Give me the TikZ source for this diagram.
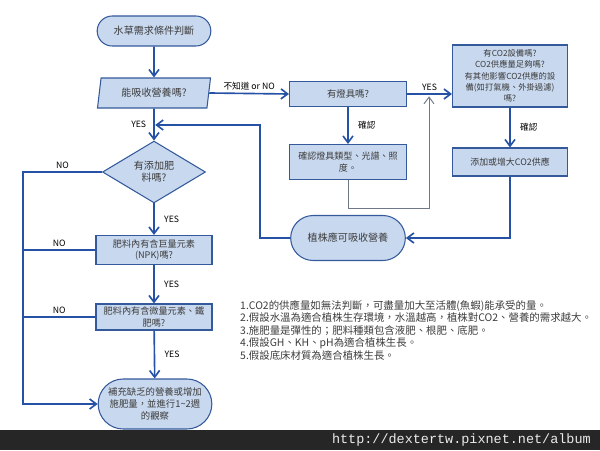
\documentclass[tikz,border=0pt]{standalone}
\usepackage{fontspec}
\setmainfont{Noto Sans CJK TC}
\setmonofont{Liberation Mono}
\usetikzlibrary{shapes.geometric, shapes.misc, arrows.meta, positioning}

\definecolor{boxfill}{RGB}{200,216,238}
\definecolor{boxline}{RGB}{52,90,155}
\definecolor{flowblue}{RGB}{38,82,165}
\definecolor{loopgray}{RGB}{110,120,135}
\definecolor{txtgray}{RGB}{60,60,60}
\definecolor{bargray}{RGB}{38,38,38}

\tikzset{
  base/.style={draw=boxline, fill=boxfill, line width=0.9pt, text=txtgray,
    font=\fontsize{8.6}{10.5}\selectfont, align=center, inner sep=1pt},
  process/.style={base, rectangle, minimum width=3.48cm},
  terminal/.style={base, rounded rectangle, minimum width=3.48cm},
  decision/.style={base, diamond, minimum width=3.09cm, minimum height=1.74cm, inner sep=0pt},
  inputbox/.style={base, trapezium, trapezium left angle=73, trapezium right angle=107,
    trapezium stretches body, minimum width=3.39cm, minimum height=0.9cm},
  flow/.style={draw=flowblue, line width=1.4pt, -{Straight Barb[length=2mm,width=3mm]}},
  flowline/.style={draw=flowblue, line width=1.4pt},
  loopflow/.style={draw=loopgray, line width=0.8pt, -{Straight Barb[length=2mm,width=3mm]}},
  lbl/.style={font=\fontsize{7.4}{9}\selectfont, text=black, inner sep=2pt},
  notes/.style={font=\fontsize{8.9}{10.7}\selectfont, align=left, text=txtgray, inner sep=0pt},
}

\begin{document}
\begin{tikzpicture}[x=0.03cm, y=-0.03cm]
	\useasboundingbox (0,0) rectangle (600,450);

	% left column
	\node [terminal, minimum height=0.9cm] (start) at (154,31) {水草需求條件判斷};
	\node [inputbox] (absorb) at (154,93) {能吸收營養嗎?};
	\node [decision] (fert) at (154,172) {有添加肥\\料嗎?};
	\node [process, minimum height=0.87cm, font=\fontsize{7.8}{10}\selectfont] (npk) at (154,250) {肥料內有含巨量元素\\(NPK)嗎?};
	\node [process, minimum height=0.78cm, font=\fontsize{7.8}{10}\selectfont] (micro) at (154,317) {肥料內有含微量元素、鐵\\肥嗎?};
	\node [terminal, minimum height=1.5cm, font=\fontsize{8}{10.5}\selectfont] (done) at (155,404) {補充缺乏的營養或增加\\施肥量，並進行1\textasciitilde2週\\的觀察};

	% middle and right column
	\node [process, minimum width=3.51cm, minimum height=0.75cm, font=\fontsize{8}{10}\selectfont] (lamp) at (348,94) {有燈具嗎?};
	\node [process, minimum width=3.51cm, minimum height=1.05cm, font=\fontsize{7.7}{10}\selectfont] (lampchk) at (348,162) {確認燈具類型、光譜、照\\度。};
	\node [terminal, minimum width=3.51cm, minimum height=1.35cm] (plant) at (348,238) {植株應可吸收營養};
	\node [process, minimum width=3.45cm, minimum height=1.86cm, font=\fontsize{7.1}{9.6}\selectfont] (co2) at (510,76) {有CO2設備嗎?\\CO2供應量足夠嗎?\\有其他影響CO2供應的設\\備(如打氣機、外掛過濾)\\嗎?};
	\node [process, minimum width=3.45cm, minimum height=0.84cm, font=\fontsize{7.6}{10}\selectfont] (co2add) at (510,162) {添加或增大CO2供應};

	\coordinate (nobus) at (23,172);
	\coordinate (back) at (260,125);
	\coordinate (lampturn) at (429,208);

	% connectors
	\draw [flow] (start) -- (absorb);
	\draw [flow] (absorb.east) -- node [lbl, above] (lunk) {不知道 or NO} (lamp.west);
	\draw [flow] (lamp.east) -- node [lbl, above] (lyes1) {YES} (lamp.east -| co2.west);
	\draw [flow] (lamp) -- node [lbl, right=6pt] (lchk1) {確認} (lampchk);
	\draw [loopflow] (lampchk.south) |- (lampturn) -- ([yshift=-2pt]lampturn |- lamp.east);
	\draw [flow] (co2) -- node [lbl, right=6pt] (lchk2) {確認} (co2add);
	\draw [flow] (co2add.south) |- (plant.east);
	\draw [flow] (plant.west) -| (back) -- ([xshift=1pt]back -| absorb.south);

	\draw [flow] (absorb.south) -- node [lbl, left=4pt] (lyes2) {YES} (fert.north);
	\draw [flow] (fert) -- node [lbl, right=6pt] (lyes3) {YES} (npk);
	\draw [flow] (npk) -- node [lbl, right=6pt] (lyes4) {YES} (micro);
	\draw [flow] (micro) -- node [lbl, right=6pt] (lyes5) {YES} (done);

	\draw [flow] (fert.west) -- node [lbl, above] (lno1) {NO} (nobus) |- (done.west);
	\draw [flowline] (npk.west) -- node [lbl, above] (lno2) {NO} (npk.west -| nobus);
	\draw [flowline] (micro.west) -- node [lbl, above] (lno3) {NO} (micro.west -| nobus);

	% notes
	\node [notes, anchor=north west] (remarks) at (240,300) {1.CO2的供應量如無法判斷，可盡量加大至活體(魚蝦)能承受的量。\\
		2.假設水溫為適合植株生存環境，水溫越高，植株對CO2、營養的需求越大。\\
		3.施肥量是彈性的；肥料種類包含液肥、根肥、底肥。\\
		4.假設GH、KH、pH為適合植株生長。\\
		5.假設底床材質為適合植株生長。};

	% footer bar
	\fill [bargray] (0,430) rectangle (600,450);
	\node [anchor=east, text=white!92!black, font=\ttfamily\fontsize{11.5}{12}\selectfont, inner sep=0pt] (url) at (591,440) {http://dextertw.pixnet.net/album};
\end{tikzpicture}
\end{document}
